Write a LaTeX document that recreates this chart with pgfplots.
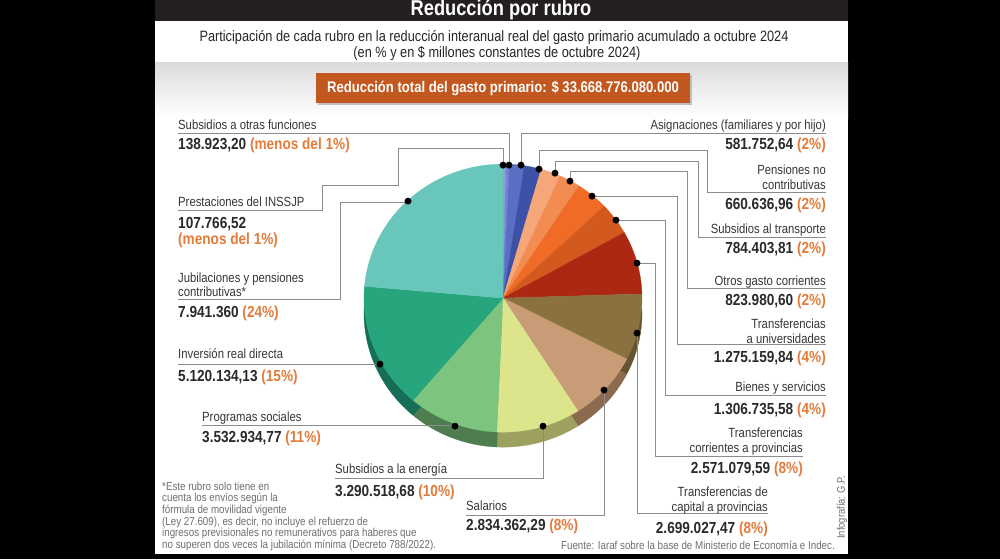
\documentclass[border=0pt]{standalone}
\usepackage{pgfplots}
\pgfplotsset{compat=1.18}
\usepackage{fontspec}
\setmainfont{Liberation Sans}[FakeStretch=0.85]
\usepgflibrary{fpu}

\definecolor{bar}{HTML}{231F20}
\definecolor{boxor}{HTML}{C2581F}
\definecolor{pct}{HTML}{E37B3A}
\definecolor{lblcol}{HTML}{363636}
\definecolor{valcol}{HTML}{2A2A2A}
\definecolor{lead}{HTML}{8C8C8C}
\definecolor{note}{HTML}{6E6E6E}
% slice colours (clockwise from 12 o'clock)
\definecolor{cA}{HTML}{8E9FDC}
\definecolor{cB}{HTML}{7486D0}
\definecolor{cC}{HTML}{5A6EC4}
\definecolor{cD}{HTML}{3D52A6}
\definecolor{cE}{HTML}{F5A77A}
\definecolor{cF}{HTML}{F28C52}
\definecolor{cG}{HTML}{EF6B26}
\definecolor{cH}{HTML}{D35A1E}
\definecolor{cI}{HTML}{AC2812}
\definecolor{cJ}{HTML}{8B7140}
\definecolor{cK}{HTML}{C99C78}
\definecolor{cL}{HTML}{DCE48C}
\definecolor{cM}{HTML}{7DC47F}
\definecolor{cN}{HTML}{27A57C}
\definecolor{cO}{HTML}{68C6BB}
\definecolor{sJ}{HTML}{665430}
\definecolor{sK}{HTML}{8C6A4E}
\definecolor{sL}{HTML}{9EA060}
\definecolor{sM}{HTML}{4E7E50}
\definecolor{sN}{HTML}{156E55}

% data: $ millones constantes de octubre 2024
\def\vA{107766.52}  % Prestaciones del INSSJP
\def\vB{138923.20}  % Subsidios a otras funciones
\def\vC{581752.64}  % Asignaciones
\def\vD{660636.96}  % Pensiones no contributivas
\def\vE{784403.81}  % Subsidios al transporte
\def\vF{823980.60}  % Otros gasto corrientes
\def\vG{1275159.84} % Transferencias a universidades
\def\vH{1306735.58} % Bienes y servicios
\def\vI{2571079.59} % Transferencias corrientes a provincias
\def\vJ{2699027.47} % Transferencias de capital a provincias
\def\vK{2834362.29} % Salarios
\def\vL{3290518.68} % Subsidios a la energia
\def\vM{3532934.77} % Programas sociales
\def\vN{5120134.13} % Inversion real directa
\def\vO{7941360}    % Jubilaciones y pensiones contributivas
\def\vT{\vA+\vB+\vC+\vD+\vE+\vF+\vG+\vH+\vI+\vJ+\vK+\vL+\vM+\vN+\vO}

\newcommand\setang[2]{\begingroup
  \pgfkeys{/pgf/fpu=true,/pgf/fpu/output format=fixed}%
  \pgfmathparse{90-360*(#2)/(\vT)}%
  \global\let#1\pgfmathresult
\endgroup}
\setang\aA{0}
\setang\aB{\vA}
\setang\aC{\vA+\vB}
\setang\aD{\vA+\vB+\vC}
\setang\aE{\vA+\vB+\vC+\vD}
\setang\aF{\vA+\vB+\vC+\vD+\vE}
\setang\aG{\vA+\vB+\vC+\vD+\vE+\vF}
\setang\aH{\vA+\vB+\vC+\vD+\vE+\vF+\vG}
\setang\aI{\vA+\vB+\vC+\vD+\vE+\vF+\vG+\vH}
\setang\aJ{\vA+\vB+\vC+\vD+\vE+\vF+\vG+\vH+\vI}
\setang\aK{\vA+\vB+\vC+\vD+\vE+\vF+\vG+\vH+\vI+\vJ}
\setang\aL{\vA+\vB+\vC+\vD+\vE+\vF+\vG+\vH+\vI+\vJ+\vK}
\setang\aM{\vA+\vB+\vC+\vD+\vE+\vF+\vG+\vH+\vI+\vJ+\vK+\vL}
\setang\aN{\vA+\vB+\vC+\vD+\vE+\vF+\vG+\vH+\vI+\vJ+\vK+\vL+\vM}
\setang\aO{\vA+\vB+\vC+\vD+\vE+\vF+\vG+\vH+\vI+\vJ+\vK+\vL+\vM+\vN}
\setang\aP{\vT}

% sector: colour, lower angle, upper angle, centre y
\newcommand\sect[4]{%
  \addplot[fill=#1, draw=#1, line width=0.3pt, mark=none, domain=#2:#3, samples=60, forget plot]
    ({503+139*cos(x)},{#4-134*sin(x)}) -- (axis cs:503,#4) -- cycle;}

\newcommand\pc[1]{{\color{pct}#1}}

\tikzset{
  lblsty/.style={font=\fontsize{13.3}{15}\selectfont, text=lblcol, inner sep=0pt},
  valsty/.style={font=\bfseries\fontsize{16}{18}\selectfont, text=valcol, inner sep=0pt},
  notesty/.style={font=\fontsize{11.5}{12.5}\selectfont, text=note, inner sep=0pt},
}

\begin{document}
\begin{tikzpicture}
\begin{axis}[
  width=1000pt, height=559pt, scale only axis,
  xmin=0, xmax=1000, ymin=0, ymax=559, y dir=reverse,
  hide axis, clip=false,
  leader/.style={color=lead, line width=0.9pt, mark=none, forget plot},
]
% background
\fill[black] (axis cs:0,0) rectangle (axis cs:1000,559);
\fill[white] (axis cs:155,21) rectangle (axis cs:848,554);
\fill[bar] (axis cs:155,0) rectangle (axis cs:848,21);
\shade[top color=black!14, bottom color=white] (axis cs:155,62) rectangle (axis cs:848,118);
\node[text=white, font=\bfseries\fontsize{21.5}{23}\selectfont, inner sep=0pt] at (axis cs:501,10) {Reducción por rubro};
\node[text=black!85, font=\fontsize{15}{17}\selectfont, inner sep=0pt] at (axis cs:494,37) {Participación de cada rubro en la reducción interanual real del gasto primario acumulado a octubre 2024};
\node[text=black!85, font=\fontsize{15}{17}\selectfont, inner sep=0pt] at (axis cs:497,53) {(en \% y en \$ millones constantes de octubre 2024)};
\fill[black!25] (axis cs:318,75) rectangle (axis cs:692,105);
\fill[boxor] (axis cs:316,73) rectangle (axis cs:690,103);
\node[text=white, font=\bfseries\fontsize{15.4}{17}\selectfont, inner sep=0pt] at (axis cs:503,88) {Reducción total del gasto primario: \$ 33.668.776.080.000};

% pie: visible side (3D depth)
\sect{sJ}{\aK}{\aJ}{313}
\sect{sK}{\aL}{\aK}{313}
\sect{sL}{\aM}{\aL}{313}
\sect{sM}{\aN}{\aM}{313}
\sect{sN}{\aO}{\aN}{313}
% pie: top surface
\sect{cA}{\aB}{\aA}{298}
\sect{cB}{\aC}{\aB}{298}
\sect{cC}{\aD}{\aC}{298}
\sect{cD}{\aE}{\aD}{298}
\sect{cE}{\aF}{\aE}{298}
\sect{cF}{\aG}{\aF}{298}
\sect{cG}{\aH}{\aG}{298}
\sect{cH}{\aI}{\aH}{298}
\sect{cI}{\aJ}{\aI}{298}
\sect{cJ}{\aK}{\aJ}{298}
\sect{cK}{\aL}{\aK}{298}
\sect{cL}{\aM}{\aL}{298}
\sect{cM}{\aN}{\aM}{298}
\sect{cN}{\aO}{\aN}{298}
\sect{cO}{\aP}{\aO}{298}

% leader lines
\addplot[leader] coordinates {(178,133) (509,133) (509,165)};
\addplot[leader] coordinates {(178,210) (322,210) (322,185) (398,185) (398,148) (503,148) (503,165)};
\addplot[leader] coordinates {(178,299) (340,299) (340,202) (408,202)};
\addplot[leader] coordinates {(178,364) (380,364)};
\addplot[leader] coordinates {(202,425) (455,425)};
\addplot[leader] coordinates {(335,478) (543,478) (543,426)};
\addplot[leader] coordinates {(466,515) (604,515) (604,390)};
\addplot[leader] coordinates {(521,165) (521,133) (826,133)};
\addplot[leader] coordinates {(539,169) (539,150) (707,150) (707,192) (826,192)};
\addplot[leader] coordinates {(555,173) (555,161) (698,161) (698,237) (826,237)};
\addplot[leader] coordinates {(570,181) (570,171) (687,171) (687,288) (826,288)};
\addplot[leader] coordinates {(592,196) (677,196) (677,344) (826,344)};
\addplot[leader] coordinates {(616,220) (665,220) (665,395) (826,395)};
\addplot[leader] coordinates {(637,263) (655,263) (655,456) (803,456)};
\addplot[leader] coordinates {(637,333) (637,513) (768,513)};
% anchor dots
\addplot[only marks, mark=*, mark size=3.2pt, black, forget plot] coordinates {
 (503,165) (509,165) (521,165) (539,169) (555,173) (570,181) (592,196) (616,220)
 (637,263) (637,333) (604,390) (543,426) (455,426) (380,364) (408,201)};

% left labels
\node[lblsty, anchor=base west] at (axis cs:178,129) {Subsidios a otras funciones};
\node[valsty, anchor=base west] at (axis cs:178,149) {138.923,20 \pc{(menos del 1\%)}};
\node[lblsty, anchor=base west] at (axis cs:178,206) {Prestaciones del INSSJP};
\node[valsty, anchor=base west] at (axis cs:178,228) {107.766,52};
\node[valsty, anchor=base west] at (axis cs:178,244) {\pc{(menos del 1\%)}};
\node[lblsty, anchor=base west] at (axis cs:178,282) {Jubilaciones y pensiones};
\node[lblsty, anchor=base west] at (axis cs:178,296) {contributivas*};
\node[valsty, anchor=base west] at (axis cs:178,317) {7.941.360 \pc{(24\%)}};
\node[lblsty, anchor=base west] at (axis cs:178,358) {Inversión real directa};
\node[valsty, anchor=base west] at (axis cs:178,381) {5.120.134,13 \pc{(15\%)}};
\node[lblsty, anchor=base west] at (axis cs:202,421) {Programas sociales};
\node[valsty, anchor=base west] at (axis cs:202,442) {3.532.934,77 \pc{(11\%)}};
\node[lblsty, anchor=base west] at (axis cs:335,473) {Subsidios a la energía};
\node[valsty, anchor=base west] at (axis cs:335,496) {3.290.518,68 \pc{(10\%)}};
\node[lblsty, anchor=base west] at (axis cs:466,510) {Salarios};
\node[valsty, anchor=base west] at (axis cs:466,530) {2.834.362,29 \pc{(8\%)}};

% right labels
\node[lblsty, anchor=base east] at (axis cs:826,129) {Asignaciones (familiares y por hijo)};
\node[valsty, anchor=base east] at (axis cs:826,149) {581.752,64 \pc{(2\%)}};
\node[lblsty, anchor=base east] at (axis cs:826,174) {Pensiones no};
\node[lblsty, anchor=base east] at (axis cs:826,189) {contributivas};
\node[valsty, anchor=base east] at (axis cs:826,209) {660.636,96 \pc{(2\%)}};
\node[lblsty, anchor=base east] at (axis cs:826,233) {Subsidios al transporte};
\node[valsty, anchor=base east] at (axis cs:826,253) {784.403,81 \pc{(2\%)}};
\node[lblsty, anchor=base east] at (axis cs:826,285) {Otros gasto corrientes};
\node[valsty, anchor=base east] at (axis cs:826,305) {823.980,60 \pc{(2\%)}};
\node[lblsty, anchor=base east] at (axis cs:826,328) {Transferencias};
\node[lblsty, anchor=base east] at (axis cs:826,343) {a universidades};
\node[valsty, anchor=base east] at (axis cs:826,362) {1.275.159,84 \pc{(4\%)}};
\node[lblsty, anchor=base east] at (axis cs:826,391) {Bienes y servicios};
\node[valsty, anchor=base east] at (axis cs:826,414) {1.306.735,58 \pc{(4\%)}};
\node[lblsty, anchor=base east] at (axis cs:803,437) {Transferencias};
\node[lblsty, anchor=base east] at (axis cs:803,452) {corrientes a provincias};
\node[valsty, anchor=base east] at (axis cs:803,473) {2.571.079,59 \pc{(8\%)}};
\node[lblsty, anchor=base east] at (axis cs:768,496) {Transferencias de};
\node[lblsty, anchor=base east] at (axis cs:768,511) {capital a provincias};
\node[valsty, anchor=base east] at (axis cs:768,533) {2.699.027,47 \pc{(8\%)}};

% footnote, source, credit
\node[notesty, anchor=base west] at (axis cs:162,490) {*Este rubro solo tiene en};
\node[notesty, anchor=base west] at (axis cs:162,501.5) {cuenta los envíos según la};
\node[notesty, anchor=base west] at (axis cs:162,513) {fórmula de movilidad vigente};
\node[notesty, anchor=base west] at (axis cs:162,525) {(Ley 27.609), es decir, no incluye el refuerzo de};
\node[notesty, anchor=base west] at (axis cs:162,536.5) {ingresos previsionales no remunerativos para haberes que};
\node[notesty, anchor=base west] at (axis cs:162,548) {no superen dos veces la jubilación mínima (Decreto 788/2022).};
\node[notesty, anchor=base east] at (axis cs:835,549) {Fuente: Iaraf sobre la base de Ministerio de Economía e Indec.};
\node[notesty, rotate=90, font=\fontsize{11}{12}\selectfont] at (axis cs:842,507) {Infografía: G.P.};
\end{axis}
\end{tikzpicture}
\end{document}
